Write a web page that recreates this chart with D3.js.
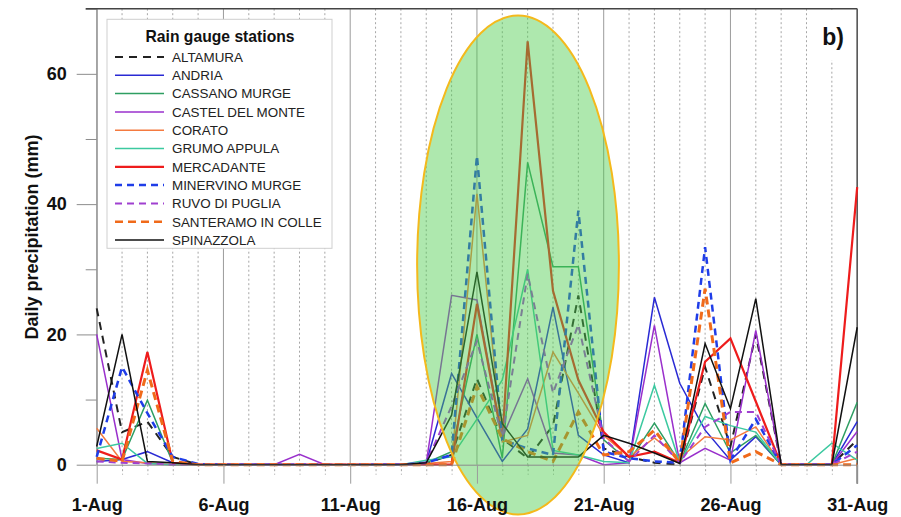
<!DOCTYPE html>
<html>
<head>
<meta charset="utf-8">
<script src="https://cdn.jsdelivr.net/npm/d3@7/dist/d3.min.js"></script>
<style>
  body { margin: 0; background: #fff; }
  svg { display: block; font-family: "Liberation Sans", Arial, sans-serif; }
</style>
</head>
<body>
<div id="chart"></div>
<script>
// Data
const days = [1, 2, 3, 4, 5, 6, 7, 8, 9, 10, 11, 12, 13, 14, 15, 16, 17, 18, 19, 20, 21, 22, 23, 24, 25, 26, 27, 28, 29, 30, 31];
const majorDays = [1, 6, 11, 16, 21, 26, 31];
const dayLabels = ['1-Aug', '6-Aug', '11-Aug', '16-Aug', '21-Aug', '26-Aug', '31-Aug'];
const yMajorTicks = [0, 20, 40, 60];
const yMinorTicks = [10, 30, 50, 70];

const stations = ['ALTAMURA', 'ANDRIA', 'CASSANO MURGE', 'CASTEL DEL MONTE', 'CORATO', 'GRUMO APPULA',
  'MERCADANTE', 'MINERVINO MURGE', 'RUVO DI PUGLIA', 'SANTERAMO IN COLLE', 'SPINAZZOLA'];

// daily precipitation (mm), 1-Aug .. 31-Aug
const altamura   = [24, 5, 6.6, 1.2, 0, 0, 0, 0, 0, 0, 0, 0, 0, 0.2, 1.5, 13.2, 4, 1, 6, 26, 2.5, 1.2, 0.3, 0, 15, 2.8, 20, 0, 0, 0, 3.8];
const andria     = [0.5, 0.8, 2, 0.3, 0, 0, 0, 0, 0, 0, 0, 0, 0, 0.3, 14, 7.2, 0.5, 5.5, 24.2, 4.5, 1.5, 0.3, 25.7, 12.5, 5.3, 0.7, 4.3, 0, 0, 0, 6.6];
const cassano    = [1, 0.8, 9.9, 0.3, 0, 0, 0, 0, 0, 0, 0, 0, 0, 0.3, 2, 20, 1, 46.4, 30.4, 30.4, 3.8, 0.5, 6.4, 0.3, 9.4, 1.8, 4.5, 0, 0, 0, 9.6];
const castel     = [20, 0.8, 0.2, 0, 0, 0, 0, 0, 1.6, 0, 0, 0, 0, 0.3, 26, 25.3, 4.2, 13.2, 1.8, 1.5, 0, 0.3, 21.4, 0.3, 2.5, 0.7, 20.6, 0, 0, 0, 5.1];
const corato     = [5.6, 0.5, 0.3, 0, 0, 0, 0, 0, 0, 0, 0, 0, 0, 0.2, 0.5, 41.6, 3.5, 4.5, 17.3, 11, 4.5, 1.2, 4.1, 1, 4.3, 3.8, 5.8, 0, 0, 0, 1];
const grumo      = [2.5, 3.3, 0.2, 0, 0, 0, 0, 0, 0, 0, 0, 0, 0, 0.7, 1.2, 7, 13, 30, 2.2, 1.5, 0.5, 0.3, 12.2, 0.3, 7.4, 6, 5, 0, 0, 3.3, 0.7];
const mercadante = [2.2, 0.8, 17.3, 0.3, 0, 0, 0, 0, 0, 0, 0, 0, 0, 0, 0, 24.7, 3.8, 65, 26.7, 13, 5, 1.2, 2, 0.3, 15.8, 19.4, 9.7, 0, 0, 0, 42.6];
const minervino  = [1.2, 15, 7.9, 1.2, 0.1, 0, 0, 0, 0, 0, 0, 0, 0, 0.3, 1.5, 47.4, 3.8, 2.5, 1.5, 39, 2, 1, 0.5, 0.3, 33.4, 0.7, 7, 0, 0, 0, 3];
const ruvo       = [0.5, 0.3, 0.2, 0, 0, 0, 0, 0, 0, 0, 0, 0, 0, 0.3, 9, 19, 4.2, 29.3, 11, 21.5, 4, 0.5, 4.5, 0.3, 5.8, 8.1, 8.1, 0, 0, 0, 2];
const santeramo  = [1, 0.5, 14.5, 0.5, 0, 0, 0, 0, 0, 0, 0, 0, 0, 0, 0, 12, 4, 2, 0.5, 8.1, 1.5, 2, 5.3, 0.3, 27, 0.3, 2, 0, 0, 0, 0];
const spinazzola = [2.8, 20, 0.5, 0.3, 0, 0, 0, 0, 0, 0, 0, 0, 0, 0.3, 7.6, 29.6, 6.3, 1.2, 1.2, 1.2, 4.5, 3.3, 1.8, 0.2, 18.6, 8.6, 25.5, 0, 0, 0, 21.1];

const seriesValues = [altamura, andria, cassano, castel, corato, grumo, mercadante, minervino, ruvo, santeramo, spinazzola];

// line styles per station
const styles = {
  'ALTAMURA':           { color: '#222222', width: 2,   dash: '8,6' },
  'ANDRIA':             { color: '#2a2ad4', width: 1.5, dash: null },
  'CASSANO MURGE':      { color: '#2e9e62', width: 1.5, dash: null },
  'CASTEL DEL MONTE':   { color: '#9a30cc', width: 1.5, dash: null },
  'CORATO':             { color: '#f47a40', width: 1.5, dash: null },
  'GRUMO APPULA':       { color: '#3cc9a0', width: 1.5, dash: null },
  'MERCADANTE':         { color: '#ee1c1c', width: 2.2, dash: null },
  'MINERVINO MURGE':    { color: '#1f3de8', width: 2.5, dash: '7,5' },
  'RUVO DI PUGLIA':     { color: '#a040d0', width: 2,   dash: '7,5' },
  'SANTERAMO IN COLLE': { color: '#f06a1a', width: 3,   dash: '8,5' },
  'SPINAZZOLA':         { color: '#111111', width: 1.5, dash: null }
};

// highlighted rain event (in data units)
const highlight = { day: 17.62, mm: 30.66, halfDays: 3.98, halfMm: 38.3 };

// Layout
const width = 901, height = 517;
const margin = { left: 96.7, right: 43.8, top: 8.7, bottom: 52.3 };
const w = width - margin.left - margin.right;
const h = height - margin.top - margin.bottom;

const svg = d3.select('#chart').append('svg')
  .attr('width', width).attr('height', height);
const g = svg.append('g').attr('transform', `translate(${margin.left},${margin.top})`);

const x = d3.scaleLinear().domain([1, 31]).range([0, w]);
const y = d3.scaleLinear().domain([0, 70]).range([h, 0]);

// vertical day grid
g.append('g').selectAll('line').data(days).join('line')
  .attr('x1', d => x(d)).attr('x2', d => x(d))
  .attr('y1', 0).attr('y2', h)
  .attr('stroke', d => majorDays.includes(d) ? '#9c9c9c' : '#a6a6a6')
  .attr('stroke-width', 1)
  .attr('stroke-dasharray', d => majorDays.includes(d) ? null : '2,2.5');

// x axis
const xMinor = g.append('g').attr('transform', `translate(0,${h})`)
  .call(d3.axisBottom(x).tickValues(days.filter(d => !majorDays.includes(d))).tickSize(10).tickSizeOuter(0).tickFormat(''));
xMinor.select('.domain').remove();
xMinor.selectAll('.tick line').attr('stroke', '#a6a6a6').attr('stroke-dasharray', '2,2.5');

const xMajor = g.append('g').attr('transform', `translate(0,${h})`)
  .call(d3.axisBottom(x).tickValues(majorDays).tickSize(19).tickSizeOuter(0).tickPadding(15)
    .tickFormat((d, i) => dayLabels[i]));
xMajor.select('.domain').attr('stroke', '#8c8c8c');
xMajor.selectAll('.tick line').attr('stroke', '#9c9c9c');
xMajor.selectAll('.tick text').attr('font-size', 18).attr('font-weight', 'bold').attr('fill', '#111')
  .attr('font-family', '"Liberation Sans", Arial, sans-serif');

// y axis
const yMinor = g.append('g')
  .call(d3.axisLeft(y).tickValues(yMinorTicks).tickSize(11).tickFormat(''));
yMinor.select('.domain').remove();
yMinor.selectAll('.tick line').attr('stroke', '#8c8c8c');

const yMajor = g.append('g')
  .call(d3.axisLeft(y).tickValues(yMajorTicks).tickSize(20).tickSizeOuter(0).tickPadding(10));
yMajor.select('.domain').attr('stroke', '#8c8c8c');
yMajor.selectAll('.tick line').attr('stroke', '#8c8c8c');
yMajor.selectAll('.tick text').attr('font-size', 18).attr('font-weight', 'bold').attr('fill', '#111')
  .attr('font-family', '"Liberation Sans", Arial, sans-serif');

// frame: top and right
g.append('line').attr('x1', -11).attr('x2', w).attr('y1', 0).attr('y2', 0)
  .attr('stroke', '#444').attr('stroke-width', 1.5);
g.append('line').attr('x1', w).attr('x2', w).attr('y1', 0).attr('y2', h + 19)
  .attr('stroke', '#555').attr('stroke-width', 1.5);

// y title
svg.append('text')
  .attr('transform', `translate(38,237) rotate(-90)`)
  .attr('text-anchor', 'middle')
  .attr('font-size', 18).attr('font-weight', 'bold').attr('fill', '#111')
  .text('Daily precipitation (mm)');

// lines
const line = d3.line().x((d, i) => x(days[i])).y(d => y(d));
stations.forEach((name, k) => {
  const s = styles[name];
  g.append('path')
    .datum(seriesValues[k])
    .attr('fill', 'none')
    .attr('stroke', s.color)
    .attr('stroke-width', s.width)
    .attr('stroke-dasharray', s.dash)
    .attr('stroke-linejoin', 'miter')
    .attr('d', line);
});

// highlight ellipse over the lines
g.append('ellipse')
  .attr('cx', x(highlight.day))
  .attr('cy', y(highlight.mm))
  .attr('rx', x(highlight.day + highlight.halfDays) - x(highlight.day))
  .attr('ry', y(0) - y(highlight.halfMm))
  .attr('fill', '#4ccc4c').attr('fill-opacity', 0.45)
  .attr('stroke', '#f4b91c').attr('stroke-width', 2);

// keep the date labels readable on top of the ellipse
xMajor.raise();

// panel label
svg.append('rect').attr('x', 812).attr('y', 10).attr('width', 44).attr('height', 50).attr('fill', '#fff');
svg.append('text').attr('x', 833).attr('y', 45).attr('text-anchor', 'middle')
  .attr('font-size', 23).attr('font-weight', 'bold').attr('fill', '#111').text('b)');

// legend
const legend = svg.append('g').attr('transform', 'translate(107,19.3)');
legend.append('rect').attr('width', 225).attr('height', 229)
  .attr('fill', '#fff').attr('stroke', '#cfcfcf').attr('stroke-width', 1);
legend.append('text').attr('x', 113).attr('y', 22.5).attr('text-anchor', 'middle')
  .attr('font-size', 15.7).attr('font-weight', 'bold').attr('fill', '#111').text('Rain gauge stations');
const rows = legend.selectAll('g.row').data(stations).join('g')
  .attr('class', 'row')
  .attr('transform', (d, i) => `translate(0,${37.7 + i * 18.3})`);
rows.append('line').attr('x1', 8).attr('x2', 57).attr('y1', 0).attr('y2', 0)
  .attr('stroke', d => styles[d].color)
  .attr('stroke-width', d => Math.min(styles[d].width, 2.5))
  .attr('stroke-dasharray', d => styles[d].dash);
rows.append('text').attr('x', 65).attr('y', 4.8)
  .attr('font-size', 13.4).attr('fill', '#222').text(d => d);
</script>
</body>
</html>
